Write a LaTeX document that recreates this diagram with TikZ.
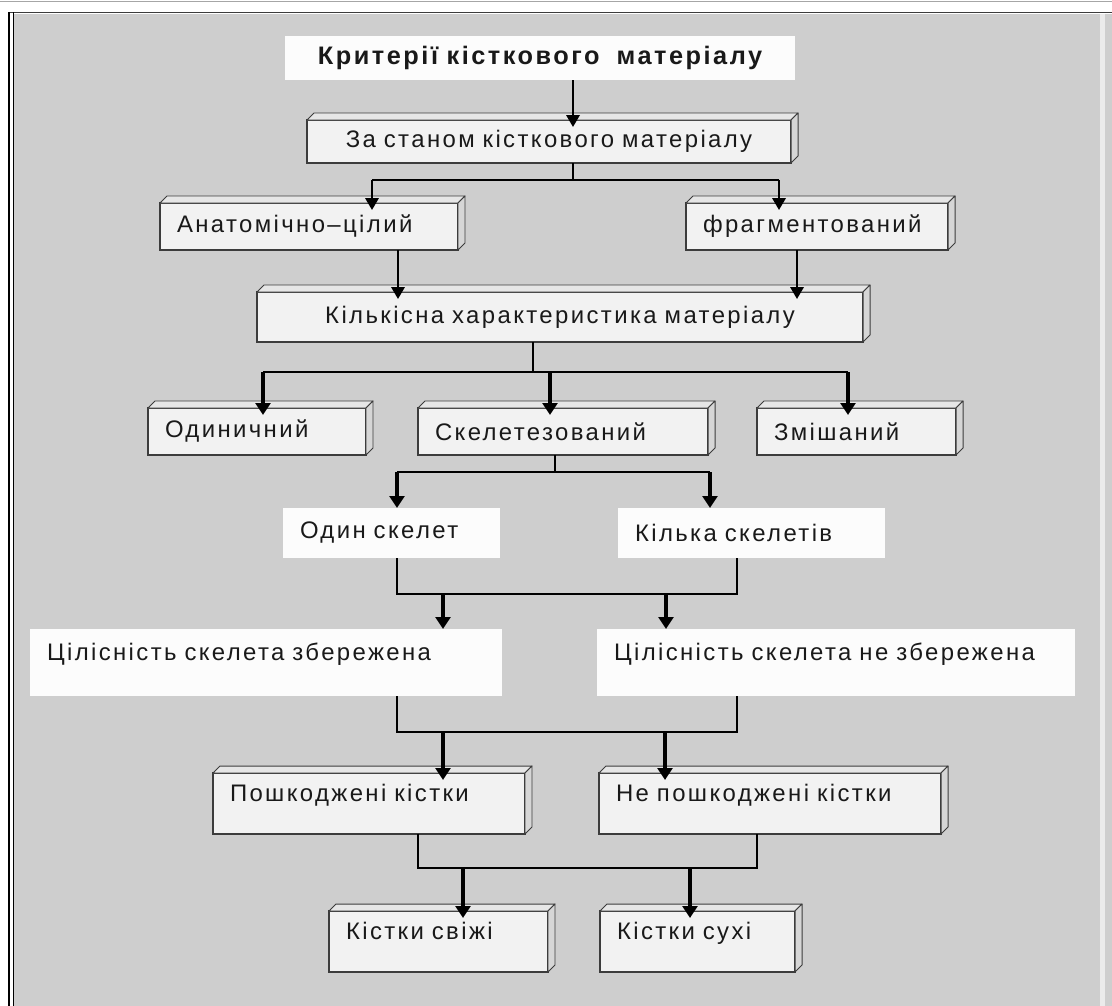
\documentclass[tikz,border=0pt]{standalone}
\usepackage{fontspec}
\setmainfont{Liberation Sans}[LetterSpace=10]
\usepackage{tikz}
\usetikzlibrary{arrows.meta,positioning,calc}
\definecolor{bggray}{RGB}{206,206,206}
\definecolor{facegray}{RGB}{242,242,242}
\definecolor{toplight}{RGB}{230,230,230}
\definecolor{sidegray}{RGB}{214,214,214}
\definecolor{edge}{RGB}{60,60,60}
\definecolor{ink}{RGB}{25,25,25}
\definecolor{paper}{RGB}{252,252,252}
\newlength{\unitpx}
\setlength{\unitpx}{0.025cm}

\begin{document}
\begin{tikzpicture}[x=0.025cm,y=-0.025cm,outer sep=0pt,inner sep=2pt,font=\fontsize{17pt}{20pt}\selectfont]
        \tikzset{face/.style={draw=edge,fill=facegray,line width=0.8pt,anchor=north west,align=left,inner xsep=17\unitpx,inner ysep=0pt,text=ink}}
        \tikzset{plain/.style={fill=paper,anchor=north west,align=left,inner xsep=17\unitpx,inner ysep=0pt,text=ink}}
        \tikzset{dims/.style 2 args={text width=#1\unitpx,minimum height=#2\unitpx}}
        \tikzset{lift/.style={text depth=22\unitpx}}
        \tikzset{bevel/.style={draw=edge,line width=0.7pt,line join=round}}
        \tikzset{link/.style={line width=1pt}}
        \tikzset{arrs/.style={line width=1.6pt,-{Triangle[length=8.5pt,width=9.5pt]}}}
        \tikzset{arrb/.style={line width=2.2pt,-{Triangle[length=8.5pt,width=10.5pt]}}}
        \tikzset{tobox/.style={shorten >=-7\unitpx}}

        \useasboundingbox (0,0) rectangle (1112,1006);
        \fill[white] (0,0) rectangle (1112,1006);
        \fill[bggray] (14,14) rectangle (1112,1006);
        \fill[black!8] (1100,14) rectangle (1105,1006);
        \draw[gray!70,line width=0.6pt] (0,1.5) -- (1112,1.5);
        \draw[edge,line width=1.2pt] (8,12.5) -- (1112,12.5);
        \draw[black,line width=0.8pt] (9,12) -- (9,1006) (13.5,12) -- (13.5,1006);

        \node [plain,align=center,dims={476}{44},font=\fontsize{18pt}{21pt}\selectfont\bfseries] (title) at (285,36) {Критерії кісткового\ \ матеріалу};
        \node [face,align=center,dims={450}{43}] (stan) at (307,120) {За станом кісткового матеріалу};

        \node [face,dims={264}{47}] (anat) at (160,203) {Анатомічно–цілий};
        \node [face,dims={228}{47}] (frag) at (686,203) {фрагментований};

        \node [face,align=center,dims={572}{50}] (kilk) at (257,292) {Кількісна характеристика матеріалу};

        \node [face,dims={184}{47}] (odyn) at (148,408) {Одиничний};
        \node [face,dims={256}{47}] (skel) at (418,408) {Скелетезований};
        \node [face,dims={165}{47}] (zmish) at (757,408) {Змішаний};

        \node [plain,dims={183}{50}] (odsk) at (283,508) {Один скелет};
        \node [plain,dims={233}{50}] (kilsk) at (618,508) {Кілька скелетів};

        \node [plain,lift,dims={438}{67}] (zber) at (30,629) {Цілісність скелета збережена};
        \node [plain,lift,dims={444}{67}] (nezb) at (597,629) {Цілісність скелета не збережена};

        \node [face,lift,dims={278}{61}] (posh) at (213,773) {Пошкоджені кістки};
        \node [face,lift,dims={308}{61}] (nepo) at (599,773) {Не пошкоджені кістки};

        \node [face,lift,dims={185}{61}] (svizh) at (329,911) {Кістки свіжі};
        \node [face,lift,dims={161}{61}] (sukh) at (600,911) {Кістки сухі};

        \foreach \b in {stan,anat,frag,kilk,odyn,skel,zmish,posh,nepo,svizh,sukh}{
            \draw[bevel,fill=toplight] (\b.north west) -- ++(7,-7) -- ($(\b.north east)+(7,-7)$) -- (\b.north east) -- cycle;
            \draw[bevel,fill=sidegray] (\b.north east) -- ++(7,-7) -- ($(\b.south east)+(7,-7)$) -- (\b.south east) -- cycle;
        }

        \coordinate (t0) at (573,0);
        \draw[arrs,tobox] (t0 |- title.south) -- (t0 |- stan.north);

        \coordinate (s1) at (573,180);
        \coordinate (s1l) at (372,180);
        \coordinate (s1r) at (779,180);
        \draw[link] (s1 |- stan.south) -- (s1) (s1l) -- (s1r);
        \draw[arrs,tobox] (s1l) -- (s1l |- anat.north);
        \draw[arrs,tobox] (s1r) -- (s1r |- frag.north);

        \coordinate (k1) at (398,0);
        \coordinate (k2) at (797,0);
        \draw[arrs,tobox] (k1 |- anat.south) -- (k1 |- kilk.north);
        \draw[arrs,tobox] (k2 |- frag.south) -- (k2 |- kilk.north);

        \coordinate (s2) at (533,372);
        \coordinate (s2l) at (263,372);
        \coordinate (s2m) at (550,372);
        \coordinate (s2r) at (848,372);
        \draw[link] (s2 |- kilk.south) -- (s2) (s2l) -- (s2r);
        \foreach \p/\n in {s2l/odyn,s2m/skel,s2r/zmish}
            \draw[arrb,tobox] (\p) -- (\p |- \n.north);

        \coordinate (s3) at (555,472);
        \coordinate (s3l) at (397,472);
        \coordinate (s3r) at (710,472);
        \draw[link] (s3 |- skel.south) -- (s3) (s3l) -- (s3r);
        \draw[arrb] (s3l) -- (s3l |- odsk.north);
        \draw[arrb] (s3r) -- (s3r |- kilsk.north);

        \coordinate (m4l) at (397,594);
        \coordinate (m4r) at (737,594);
        \coordinate (m4a) at (443,594);
        \coordinate (m4b) at (666,594);
        \draw[link] (m4l |- odsk.south) -- (m4l) -- (m4r) -- (m4r |- kilsk.south);
        \draw[arrb] (m4a) -- (m4a |- zber.north);
        \draw[arrb] (m4b) -- (m4b |- nezb.north);

        \coordinate (m5l) at (397,732);
        \coordinate (m5r) at (737,732);
        \coordinate (m5a) at (443,732);
        \coordinate (m5b) at (665,732);
        \draw[link] (m5l |- zber.south) -- (m5l) -- (m5r) -- (m5r |- nezb.south);
        \draw[arrb,tobox] (m5a) -- (m5a |- posh.north);
        \draw[arrb,tobox] (m5b) -- (m5b |- nepo.north);

        \coordinate (m6l) at (418,868);
        \coordinate (m6r) at (757,868);
        \coordinate (m6a) at (463,868);
        \coordinate (m6b) at (690,868);
        \draw[link] (m6l |- posh.south) -- (m6l) -- (m6r) -- (m6r |- nepo.south);
        \draw[arrb,tobox] (m6a) -- (m6a |- svizh.north);
        \draw[arrb,tobox] (m6b) -- (m6b |- sukh.north);
    \end{tikzpicture}
\end{document}
